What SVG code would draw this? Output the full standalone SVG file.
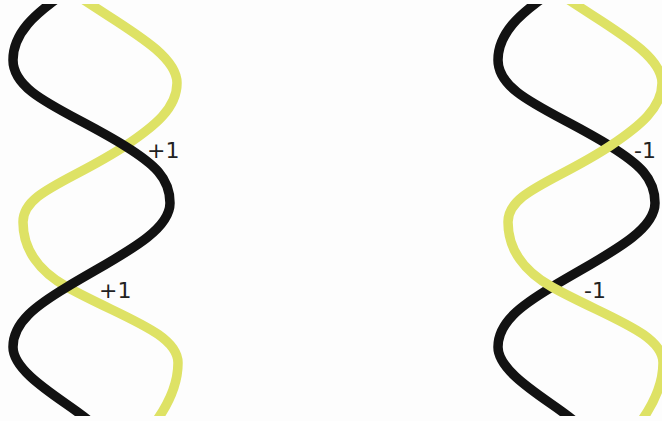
<svg xmlns="http://www.w3.org/2000/svg" xmlns:xlink="http://www.w3.org/1999/xlink" width="662" height="421" viewBox="0 0 662 421">
<style>
.strand{fill:none;stroke-width:9.5;stroke-linecap:butt;stroke-linejoin:round}
.blk{stroke:#121212}
.yel{stroke:#dee265}
.lbl{font-family:"DejaVu Sans","Liberation Sans",sans-serif;font-size:22px;fill:#222}
</style>
<defs>
<clipPath id="cut"><rect x="0" y="4" width="662" height="412"/></clipPath>
<path id="black" d="M55,0 C42,10 13,30 13,60 C13,95 69,111 125,146 C154,164 170,178 170,203 C170,233 116.5,257 67,287 C37,305 13,322 13,347 C13,374 65.5,401 88,420"/>
<path id="yellow" d="M84,0 C129,30 177,55 177,83 C177,108 155,126 125,146 C72,181 23,192 23,222 C23,250 40,272 67,287 C121,317 178,333 178,363 C178,385 167.5,405 157,420"/>
</defs>
<rect width="662" height="421" fill="#fdfdfd"/>
<g id="helix-left" clip-path="url(#cut)">
<use xlink:href="#yellow" class="strand yel"/>
<use xlink:href="#black" class="strand blk"/>
</g>
<g id="helix-right" clip-path="url(#cut)">
<g transform="translate(485,0)">
<use xlink:href="#black" class="strand blk"/>
<use xlink:href="#yellow" class="strand yel"/>
</g>
</g>
<g id="labels">
<text class="lbl" x="147" y="158">+1</text>
<text class="lbl" x="99" y="298">+1</text>
<text class="lbl" x="634" y="158">-1</text>
<text class="lbl" x="584" y="298">-1</text>
</g>
</svg>
